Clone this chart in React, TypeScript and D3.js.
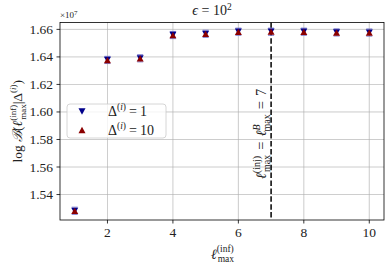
import React from "react";
import * as d3 from "d3";

const ellValues = [1, 2, 3, 4, 5, 6, 7, 8, 9, 10];
const delta1 = [1.5282, 1.6378, 1.639, 1.6559, 1.6568, 1.6583, 1.6583, 1.6583, 1.6578, 1.6577];
const delta10 = [1.5282, 1.6377, 1.6389, 1.6558, 1.6567, 1.6582, 1.6583, 1.6582, 1.6577, 1.6576];
const xTicks = [2, 4, 6, 8, 10];
const yTicks = [1.54, 1.56, 1.58, 1.6, 1.62, 1.64, 1.66];
const injectedEll = 7;

const W = 391, H = 268;
const L = 60, R = 384, T = 22.5, B = 220;
const FONT = "Liberation Serif, DejaVu Serif, serif";
const BLUE = "#00008b";
const RED = "#8b0000";

export default function App() {
  const x = d3.scaleLinear().domain([0.55, 10.45]).range([L, R]);
  const y = d3.scaleLinear().domain([1.5215, 1.665]).range([B, T]);
  const tri = (cx: number, cy: number, s: number, up: boolean) => {
    const h = s * 0.9;
    return up
      ? `M${cx},${cy - h / 2}L${cx + s / 2},${cy + h / 2}L${cx - s / 2},${cy + h / 2}Z`
      : `M${cx},${cy + h / 2}L${cx + s / 2},${cy - h / 2}L${cx - s / 2},${cy - h / 2}Z`;
  };
  const ts = { fontFamily: FONT };
  return (
    <svg width={W} height={H} style={{ position: "absolute", left: 0, top: 0, background: "#fff", fontFamily: FONT }}>
      {/* grid */}
      {xTicks.map((t) => (
        <line key={"gx" + t} x1={x(t)} x2={x(t)} y1={T} y2={B} stroke="#b0b0b0" strokeWidth={0.8} opacity={0.8} />
      ))}
      {yTicks.map((t) => (
        <line key={"gy" + t} x1={L} x2={R} y1={y(t)} y2={y(t)} stroke="#b0b0b0" strokeWidth={0.8} opacity={0.8} />
      ))}
      {/* dashed vertical line */}
      <line x1={x(injectedEll)} x2={x(injectedEll)} y1={T} y2={B} stroke="#000" strokeWidth={1.5} strokeDasharray="5.5,2.4" />
      {/* data */}
      {ellValues.map((v, i) => (
        <g key={"p" + v}>
          <line x1={x(v) - 3} x2={x(v) + 3} y1={y(delta1[i]) - 3.6} y2={y(delta1[i]) - 3.6} stroke="#7f7fd0" strokeWidth={1} />
          <line x1={x(v) - 3} x2={x(v) + 3} y1={y(delta1[i]) + 3.6} y2={y(delta1[i]) + 3.6} stroke="#7f7fd0" strokeWidth={1} />
          <path d={tri(x(v), y(delta1[i]), 7, false)} fill={BLUE} />
          <path d={tri(x(v), y(delta10[i]), 7, true)} fill={RED} />
        </g>
      ))}
      {/* spines */}
      <rect x={L} y={T} width={R - L} height={B - T} fill="none" stroke="#000" strokeWidth={0.8} />
      {/* x ticks */}
      {xTicks.map((t) => (
        <g key={"xt" + t}>
          <line x1={x(t)} x2={x(t)} y1={B} y2={B + 3.5} stroke="#000" strokeWidth={0.8} />
          <text style={ts} x={x(t)} y={B + 17} textAnchor="middle" fontSize={13.5} fill="#222">{t}</text>
        </g>
      ))}
      {/* y ticks */}
      {yTicks.map((t) => (
        <g key={"yt" + t}>
          <line x1={L - 3.5} x2={L} y1={y(t)} y2={y(t)} stroke="#000" strokeWidth={0.8} />
          <text style={ts} x={L - 7} y={y(t) + 4.5} textAnchor="end" fontSize={13.5} fill="#222">{t.toFixed(2)}</text>
        </g>
      ))}
      {/* offset text */}
      <text style={ts} x={L} y={18} fontSize={9} fill="#222">
        ×10<tspan dy={-3.5} fontSize={7}>7</tspan>
      </text>
      {/* title */}
      <text style={ts} x={212} y={15} textAnchor="middle" fontSize={14} fill="#222">
        <tspan fontStyle="italic">ϵ</tspan> = 10<tspan dy={-5} fontSize={9.5}>2</tspan>
      </text>
      {/* x label */}
      <text style={ts} x={211} y={259} fontSize={14} fill="#222">
        <tspan fontStyle="italic">ℓ</tspan>
        <tspan dy={-7} fontSize={9.5}>(inf)</tspan>
        <tspan dx={-16} dy={10} fontSize={9.5}>max</tspan>
      </text>
      {/* y label */}
      <text style={ts} transform={`translate(22,${(T + B) / 2}) rotate(-90)`} textAnchor="middle" fontSize={13.5} fill="#222">
        log <tspan fontStyle="italic">ℬ</tspan>(<tspan fontStyle="italic">ℓ</tspan>
        <tspan dy={-6} fontSize={9}>(inf)</tspan>
        <tspan dx={-15} dy={10} fontSize={9}>max</tspan>
        <tspan dy={-4}>|Δ</tspan>
        <tspan dy={-6} fontSize={9}>(<tspan fontStyle="italic">i</tspan>)</tspan>
        <tspan dy={6}>)</tspan>
      </text>
      {/* dashed line label */}
      <text style={ts} transform={`translate(266,${134}) rotate(-90)`} textAnchor="middle" fontSize={14.5} fill="#222">
        <tspan fontStyle="italic">ℓ</tspan>
        <tspan dy={-6} fontSize={10}>(inj)</tspan>
        <tspan dx={-16} dy={10} fontSize={10}>max</tspan>
        <tspan dx={5} dy={-4}>=</tspan>
        <tspan dx={5} fontStyle="italic">ℓ</tspan>
        <tspan dy={-6} fontSize={10} fontStyle="italic">B</tspan>
        <tspan dx={-7} dy={10} fontSize={10}>max</tspan>
        <tspan dx={5} dy={-4}>=</tspan>
        <tspan dx={5}>7</tspan>
      </text>
      {/* legend */}
      <rect x={67} y={104} width={99} height={34} rx={3} fill="#fff" fillOpacity={0.8} stroke="#ccc" strokeWidth={0.8} />
      <path d={tri(82, 111.5, 7, false)} fill={BLUE} />
      <path d={tri(82, 130, 7, true)} fill={RED} />
      <text style={ts} x={108} y={116} fontSize={14} fill="#222">
        Δ<tspan dy={-6} fontSize={9.5}>(<tspan fontStyle="italic">i</tspan>)</tspan><tspan dx={3} dy={6}>=</tspan><tspan dx={3}>1</tspan>
      </text>
      <text style={ts} x={108} y={135} fontSize={14} fill="#222">
        Δ<tspan dy={-6} fontSize={9.5}>(<tspan fontStyle="italic">i</tspan>)</tspan><tspan dx={3} dy={6}>=</tspan><tspan dx={3}>10</tspan>
      </text>
    </svg>
  );
}
